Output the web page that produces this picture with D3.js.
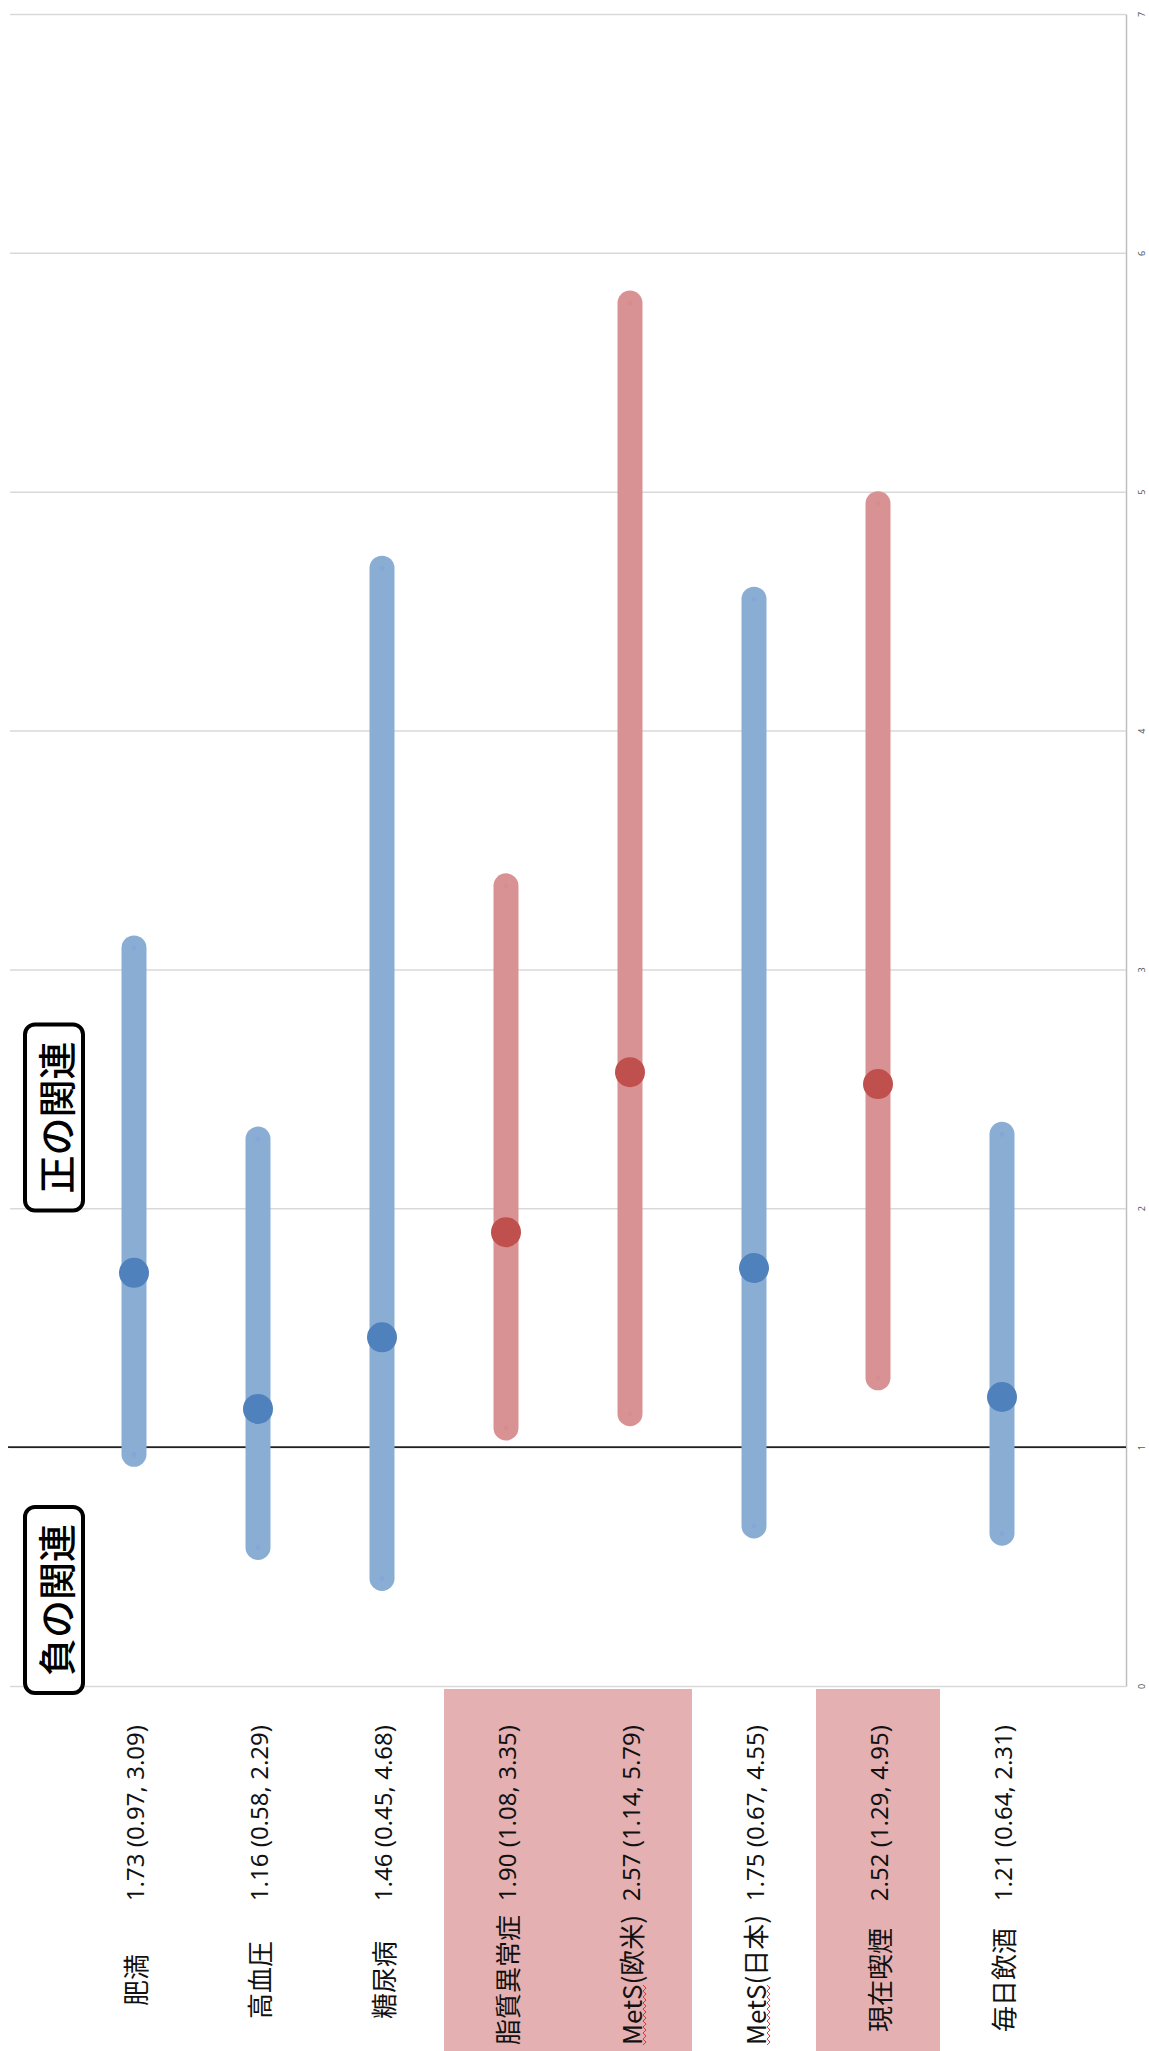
<!DOCTYPE html>
<meta charset="utf-8">
<style>
    body { margin: 0; background: #fff; }
    text { font-family: "Noto Sans CJK JP", "Noto Sans", sans-serif; }
    .grid line { stroke: #d9d9d9; stroke-width: 1.5; }
    .grid path { stroke: #bfbfbf; stroke-width: 1.5; }
    .grid text { fill: #595959; font-size: 9px; font-family: "Noto Sans", sans-serif; }
</style>

<svg width="1149" height="2051"></svg>

<script src="https://cdn.jsdelivr.net/npm/d3@7"></script>
<script>

    // DATA

    var categories = ["肥満", "高血圧", "糖尿病", "脂質異常症", "MetS(欧米)", "MetS(日本)", "現在喫煙", "毎日飲酒"],
        estimates = [1.73, 1.16, 1.46, 1.90, 2.57, 1.75, 2.52, 1.21],
        lowerCI = [0.97, 0.58, 0.45, 1.08, 1.14, 0.67, 1.29, 0.64],
        upperCI = [3.09, 2.29, 4.68, 3.35, 5.79, 4.55, 4.95, 2.31],
        significant = [false, false, false, true, true, false, true, false],
        valueTicks = [0, 1, 2, 3, 4, 5, 6, 7],
        noteTexts = ["正の関連", "負の関連"],
        noteValues = [2.38, 0.36];

    var rows = categories.map(function (c, i) {
        return { name: c, est: estimates[i], lo: lowerCI[i], hi: upperCI[i], sig: significant[i] };
    });

    // SETUP

    var svg = d3.select("svg"),
        plot = { left: 10, right: 1126, top: 14, bottom: 1686 },
        fmt = d3.format(".2f");

    var x = d3.scaleBand()
        .domain(categories)
        .range([plot.left, plot.right])
        .paddingInner(0)
        .paddingOuter(0.5);

    var y = d3.scaleLinear()
        .domain([0, 7])
        .range([plot.bottom, plot.top]);

    // pink bands behind the labels of significant rows
    svg.append("g").selectAll("rect")
        .data(rows.filter(function (d) { return d.sig; }))
        .enter().append("rect")
        .attr("x", function (d) { return x(d.name); })
        .attr("y", plot.bottom + 3)
        .attr("width", x.bandwidth())
        .attr("height", 2051 - plot.bottom - 3)
        .attr("fill", "#e4b0b1");

    // grid + value axis on the right
    var grid = svg.append("g")
        .attr("class", "grid")
        .attr("transform", "translate(" + plot.right + ",0)")
        .call(d3.axisRight(y)
            .tickValues(valueTicks)
            .tickFormat(d3.format("d"))
            .tickSize(-(plot.right - plot.left))
            .tickSizeOuter(0));

    grid.selectAll("text")
        .attr("x", null)
        .attr("dy", null)
        .attr("text-anchor", "middle")
        .attr("dominant-baseline", "central")
        .attr("transform", "translate(15,0) rotate(-90)");

    // reference line at 1
    svg.append("line")
        .attr("x1", plot.left - 2)
        .attr("x2", plot.right)
        .attr("y1", y(1))
        .attr("y2", y(1))
        .attr("stroke", "#222")
        .attr("stroke-width", 1.6);

    // CI bars
    var cx = function (d) { return x(d.name) + x.bandwidth() / 2; };

    var g = svg.append("g");

    g.selectAll(".ci")
        .data(rows)
        .enter().append("line")
        .attr("class", "ci")
        .attr("x1", cx)
        .attr("x2", cx)
        .attr("y1", function (d) { return y(d.lo); })
        .attr("y2", function (d) { return y(d.hi); })
        .attr("stroke", function (d) { return d.sig ? "#d99294" : "#8aadd4"; })
        .attr("stroke-width", 25)
        .attr("stroke-linecap", "round");

    // faint end markers
    rows.forEach(function (d) {
        [d.lo, d.hi].forEach(function (v) {
            g.append("circle")
                .attr("cx", cx(d))
                .attr("cy", y(v))
                .attr("r", 2.5)
                .attr("fill", d.sig ? "#d68d8f" : "#84a6d8");
        });
    });

    // point estimates
    g.selectAll(".est")
        .data(rows)
        .enter().append("circle")
        .attr("class", "est")
        .attr("cx", cx)
        .attr("cy", function (d) { return y(d.est); })
        .attr("r", 15)
        .attr("fill", function (d) { return d.sig ? "#c0504d" : "#4f81bd"; });

    // LABELS (rotated)

    var lab = svg.append("g").selectAll("g")
        .data(rows)
        .enter().append("g")
        .attr("transform", function (d) { return "translate(" + cx(d) + ",0)"; });

    lab.append("text")
        .attr("transform", "translate(0,1725) rotate(-90)")
        .attr("text-anchor", "end")
        .attr("dominant-baseline", "central")
        .style("font-family", "'Noto Sans', sans-serif")
        .style("font-size", "24px")
        .attr("fill", "#111")
        .text(function (d) { return fmt(d.est) + " (" + fmt(d.lo) + ", " + fmt(d.hi) + ")"; });

    var names = lab.append("text")
        .attr("transform", "translate(0,1980) rotate(-90)")
        .attr("text-anchor", "middle")
        .attr("dominant-baseline", "central")
        .style("font-size", "26px")
        .attr("fill", "#111")
        .text(function (d) { return d.name; });

    // spell-check squiggle under "MetS"
    names.each(function (d) {
        if (d.name.indexOf("MetS") !== 0) return;
        var total = this.getComputedTextLength(),
            len = this.getSubStringLength(0, 4),
            y0 = 1980 + total / 2,
            pts = [];
        for (var k = 0; k <= Math.floor(len / 3); k++) {
            pts.push([k % 2 ? 16 : 13, y0 - k * 3]);
        }
        d3.select(this.parentNode).append("path")
            .attr("d", d3.line()(pts))
            .attr("fill", "none")
            .attr("stroke", "#e03030")
            .attr("stroke-width", 1);
    });

    // NOTE BOXES

    var notes = svg.append("g").selectAll("g")
        .data(noteTexts)
        .enter().append("g")
        .attr("transform", function (d, i) { return "translate(54," + y(noteValues[i]) + ")"; });

    notes.append("rect")
        .attr("x", -29)
        .attr("y", -93)
        .attr("width", 58)
        .attr("height", 186)
        .attr("rx", 10)
        .attr("fill", "#fff")
        .attr("stroke", "#000")
        .attr("stroke-width", 4);

    notes.append("text")
        .attr("transform", "rotate(-90)")
        .attr("text-anchor", "middle")
        .attr("dominant-baseline", "central")
        .style("font-size", "38px")
        .style("font-weight", "500")
        .attr("fill", "#000")
        .text(function (d) { return d; });

</script>
